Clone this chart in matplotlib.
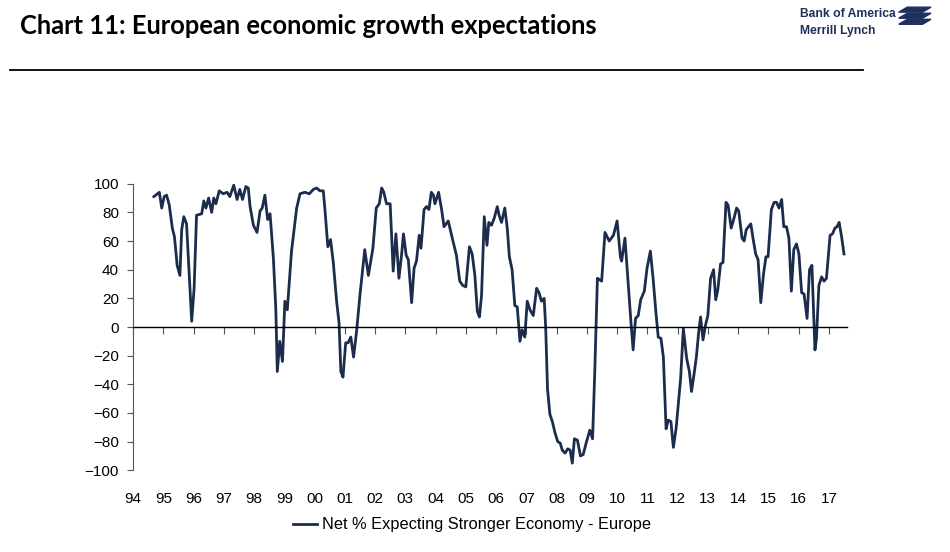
import matplotlib
matplotlib.use("Agg")
import matplotlib.pyplot as plt
from matplotlib.patches import Polygon
import numpy as np

# values (decimal year, net %)
dates = [
    1994.69, 1994.87, 1994.95, 1995.03, 1995.11, 1995.20, 1995.30, 1995.37, 1995.46, 1995.55,
    1995.61, 1995.68, 1995.77, 1995.86, 1995.94, 1996.02, 1996.10, 1996.27, 1996.34, 1996.41,
    1996.50, 1996.60, 1996.67, 1996.74, 1996.85, 1996.98, 1997.11, 1997.20, 1997.33, 1997.44,
    1997.53, 1997.62, 1997.73, 1997.81, 1997.87, 1997.98, 1998.10, 1998.20, 1998.27, 1998.36,
    1998.45, 1998.53, 1998.64, 1998.72, 1998.77, 1998.85, 1998.94, 1999.02, 1999.10, 1999.24,
    1999.41, 1999.52, 1999.68, 1999.83, 1999.96, 2000.07, 2000.18, 2000.29, 2000.34, 2000.44,
    2000.53, 2000.62, 2000.73, 2000.81, 2000.87, 2000.94, 2001.03, 2001.11, 2001.20, 2001.29,
    2001.39, 2001.50, 2001.66, 2001.78, 2001.93, 2002.04, 2002.14, 2002.22, 2002.29, 2002.38,
    2002.50, 2002.60, 2002.69, 2002.79, 2002.88, 2002.94, 2003.03, 2003.10, 2003.21, 2003.29,
    2003.37, 2003.46, 2003.52, 2003.62, 2003.70, 2003.78, 2003.86, 2003.93, 2003.98, 2004.10,
    2004.20, 2004.28, 2004.42, 2004.53, 2004.69, 2004.80, 2004.90, 2005.00, 2005.12, 2005.21,
    2005.30, 2005.38, 2005.45, 2005.52, 2005.61, 2005.70, 2005.76, 2005.85, 2005.94, 2006.04,
    2006.10, 2006.18, 2006.29, 2006.37, 2006.44, 2006.53, 2006.62, 2006.70, 2006.79, 2006.86,
    2006.95, 2007.03, 2007.12, 2007.23, 2007.34, 2007.42, 2007.50, 2007.59, 2007.64, 2007.70,
    2007.78, 2007.86, 2007.95, 2008.04, 2008.12, 2008.19, 2008.28, 2008.37, 2008.45, 2008.52,
    2008.59, 2008.69, 2008.79, 2008.88, 2008.99, 2009.10, 2009.19, 2009.26, 2009.35, 2009.49,
    2009.60, 2009.74, 2009.88, 2010.00, 2010.11, 2010.15, 2010.26, 2010.37, 2010.46, 2010.53,
    2010.61, 2010.70, 2010.78, 2010.90, 2010.99, 2011.10, 2011.19, 2011.28, 2011.36, 2011.45,
    2011.53, 2011.62, 2011.69, 2011.78, 2011.86, 2011.95, 2012.03, 2012.10, 2012.19, 2012.30,
    2012.39, 2012.46, 2012.55, 2012.62, 2012.70, 2012.76, 2012.84, 2012.92, 2013.00, 2013.09,
    2013.19, 2013.26, 2013.33, 2013.42, 2013.50, 2013.60, 2013.67, 2013.77, 2013.84, 2013.95,
    2014.02, 2014.13, 2014.20, 2014.27, 2014.42, 2014.50, 2014.58, 2014.66, 2014.75, 2014.84,
    2014.92, 2014.99, 2015.10, 2015.19, 2015.27, 2015.35, 2015.44, 2015.51, 2015.60, 2015.68,
    2015.76, 2015.84, 2015.93, 2016.01, 2016.10, 2016.18, 2016.28, 2016.36, 2016.44, 2016.54,
    2016.59, 2016.67, 2016.76, 2016.84, 2016.92, 2017.04, 2017.12, 2017.20, 2017.27, 2017.34,
    2017.42, 2017.50,
]
net_pct = [
    91, 94, 83, 91, 92, 85, 69, 63, 43, 36,
    68, 77, 72, 36, 4, 27, 78, 79, 88, 83,
    90, 80, 90, 86, 95, 93, 94, 91, 99, 89,
    96, 89, 98, 97, 84, 71, 66, 81, 83, 92,
    75, 79, 48, 13, -31, -10, -24, 18, 12, 53,
    83, 93, 94, 93, 96, 97, 95, 95, 83, 56,
    61, 45, 18, 3, -31, -35, -11, -11, -7, -21,
    -3, 22, 54, 36, 55, 83, 86, 97, 94, 86,
    86, 39, 65, 34, 51, 65, 50, 47, 17, 41,
    46, 64, 55, 82, 84, 82, 94, 92, 86, 94,
    82, 70, 74, 64, 50, 32, 29, 28, 56, 51,
    36, 11, 7, 22, 77, 57, 73, 71, 76, 84,
    78, 73, 83, 69, 49, 40, 15, 14, -10, -2,
    -7, 18, 12, 8, 27, 24, 18, 20, 0, -43,
    -61, -66, -74, -80, -81, -86, -88, -85, -86, -95,
    -78, -79, -90, -89, -80, -72, -78, -33, 34, 32,
    66, 60, 64, 74, 49, 46, 62, 29, 3, -16,
    6, 8, 19, 25, 41, 53, 34, 11, -7, -8,
    -21, -71, -65, -66, -84, -71, -52, -36, -1, -22,
    -31, -45, -32, -21, -3, 7, -9, 1, 8, 34,
    40, 19, 26, 44, 45, 87, 85, 69, 74, 83,
    81, 62, 60, 68, 72, 61, 51, 47, 17, 37,
    49, 49, 82, 87, 87, 83, 89, 70, 70, 62,
    25, 54, 58, 51, 24, 23, 6, 40, 43, -16,
    -8, 29, 35, 32, 34, 64, 65, 69, 70, 73,
    63, 51,
]
years = list(range(1994, 2018))
year_labels = ["%02d" % (y % 100) for y in years]
y_ticks = list(range(-100, 101, 20))
series_name = "Net % Expecting Stronger Economy - Europe"

navy = "#1b2c4c"
plt.rcParams["font.family"] = ["Liberation Sans", "DejaVu Sans"]

fig = plt.figure(figsize=(9.5, 5.52), dpi=100)
ax = fig.add_axes([0.14, 0.148, 0.7516, 0.5192])

ax.plot(dates, net_pct, color=navy, lw=2.0, label=series_name)

ax.set_xlim(1994, 2017.6)
ax.set_ylim(-100, 100)
ax.set_yticks(y_ticks)
ax.set_xticks(years)
ax.set_xticklabels(year_labels)

for side in ["top", "right"]:
    ax.spines[side].set_visible(False)
ax.spines["left"].set_color("#555555")
ax.spines["left"].set_linewidth(0.8)
ax.spines["bottom"].set_position(("data", 0))
ax.spines["bottom"].set_color("black")
ax.spines["bottom"].set_linewidth(1.0)

ax.tick_params(axis="y", direction="out", length=4, width=0.8, color="#555555",
               labelsize=11, pad=6)
ax.tick_params(axis="x", direction="out", length=5, width=0.8, color="#555555",
               labelsize=11, pad=114)

ax.legend(loc="center", bbox_to_anchor=(0.497, 0.049), bbox_transform=fig.transFigure,
          frameon=False, fontsize=11.8, handlelength=1.5, handletextpad=0.3)

# header
fig.text(0.021, 0.953, "Chart 11: European economic growth expectations",
         fontsize=18.4, fontweight="bold", family=["Lato", "DejaVu Sans"],
         va="center", ha="left", color="black")
fig.add_artist(plt.Line2D([0.011, 0.908], [0.873, 0.873], color="black", lw=1.3))

fig.text(0.842, 0.974, "Bank of America", fontsize=8.7, fontweight="bold",
         color="#1f2f5e", va="center", ha="left")
fig.text(0.842, 0.943, "Merrill Lynch", fontsize=8.7, fontweight="bold",
         color="#1f2f5e", va="center", ha="left")
# small flag mark
for k in range(3):
    dy = k * 0.011
    fig.add_artist(Polygon([[0.955, 0.987 - dy], [0.980, 0.987 - dy],
                            [0.971, 0.978 - dy], [0.946, 0.978 - dy]],
                           closed=True, color="#1f2f5e", transform=fig.transFigure))

fig.savefig("out.png", dpi=100)
